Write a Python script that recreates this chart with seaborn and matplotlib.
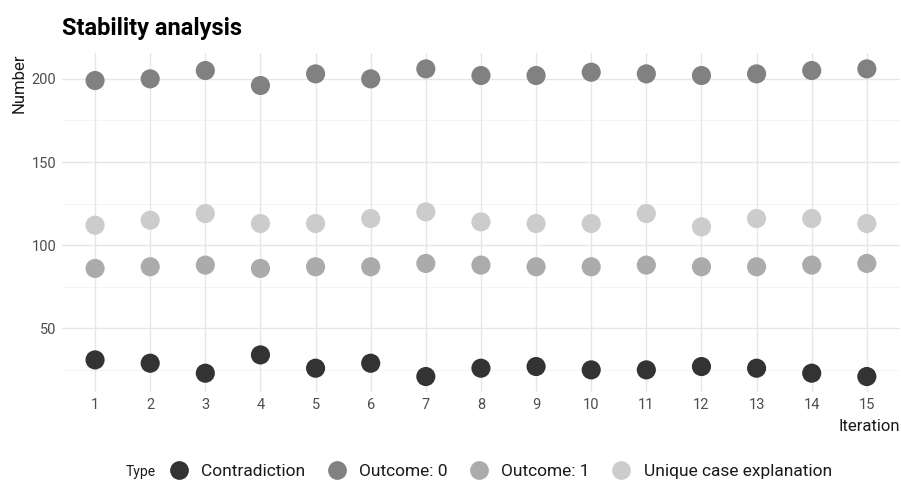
import pandas as pd
import matplotlib
matplotlib.use("Agg")
import matplotlib.pyplot as plt
from matplotlib.lines import Line2D
import seaborn as sns

# values
iterations = list(range(1, 16))
contradiction = [31, 29, 23, 34, 26, 29, 21, 26, 27, 25, 25, 27, 26, 23, 21]
outcome_0 = [199, 200, 205, 196, 203, 200, 206, 202, 202, 204, 203, 202, 203, 205, 206]
outcome_1 = [86, 87, 88, 86, 87, 87, 89, 88, 87, 87, 88, 87, 87, 88, 89]
unique_case = [112, 115, 119, 113, 113, 116, 120, 114, 113, 113, 119, 111, 116, 116, 113]
type_names = ["Contradiction", "Outcome: 0", "Outcome: 1", "Unique case explanation"]
type_colors = ["#333333", "#818181", "#ababab", "#cccccc"]

frames = []
for name, vals in zip(type_names, [contradiction, outcome_0, outcome_1, unique_case]):
    frames.append(pd.DataFrame({"Iteration": iterations, "Number": vals, "Type": name}))
df = pd.concat(frames, ignore_index=True)

sns.set_theme(style="white")
plt.rcParams["font.family"] = ["Roboto", "DejaVu Sans"]

fig = plt.figure(figsize=(9.01, 4.90), dpi=100)
ax = fig.add_axes([0.0688, 0.199, 0.93, 0.692])

# grid like theme_minimal
for y in [25, 75, 125, 175]:
    ax.axhline(y, color="#f2f2f2", lw=0.6, zorder=0)
for y in [50, 100, 150, 200]:
    ax.axhline(y, color="#e6e6e6", lw=1.0, zorder=0)
for x in iterations:
    ax.axvline(x, color="#e6e6e6", lw=1.0, zorder=0)

sns.scatterplot(data=df, x="Iteration", y="Number", hue="Type",
                hue_order=type_names, palette=type_colors,
                s=190, linewidth=0, legend=False, ax=ax, zorder=3)

ax.set_xlim(0.4, 15.6)
ax.set_ylim(11.4, 215.3)
ax.set_xticks(iterations)
ax.set_xticklabels([str(i) for i in iterations])
ax.set_yticks([50, 100, 150, 200])
ax.tick_params(axis="both", length=0, labelsize=10.5, labelcolor="#4d4d4d", pad=4)
for s in ax.spines.values():
    s.set_visible(False)
ax.grid(False)

ax.set_xlabel("Iteration", fontsize=12, color="#1a1a1a", loc="right", labelpad=5)
ax.set_ylabel("Number", fontsize=12, color="#1a1a1a", loc="top", labelpad=4)

fig.text(0.0688, 0.942, "Stability analysis", fontsize=17, fontweight="bold",
         color="#000000", va="center", ha="left")

# legend at the bottom
fig.text(0.139, 0.037, "Type", fontsize=10, color="#1a1a1a", va="center", ha="left")
handles = [Line2D([0], [0], marker="o", color="none", markerfacecolor=c,
                  markeredgewidth=0, markersize=13.5) for c in type_colors]
fig.legend(handles, type_names, loc="center left", bbox_to_anchor=(0.179, 0.037),
           ncol=4, frameon=False, fontsize=12.5, handlelength=1.0, handletextpad=0.8,
           columnspacing=1.3, borderpad=0, labelcolor="#1a1a1a")

fig.savefig("out.png", dpi=100, facecolor="white")
